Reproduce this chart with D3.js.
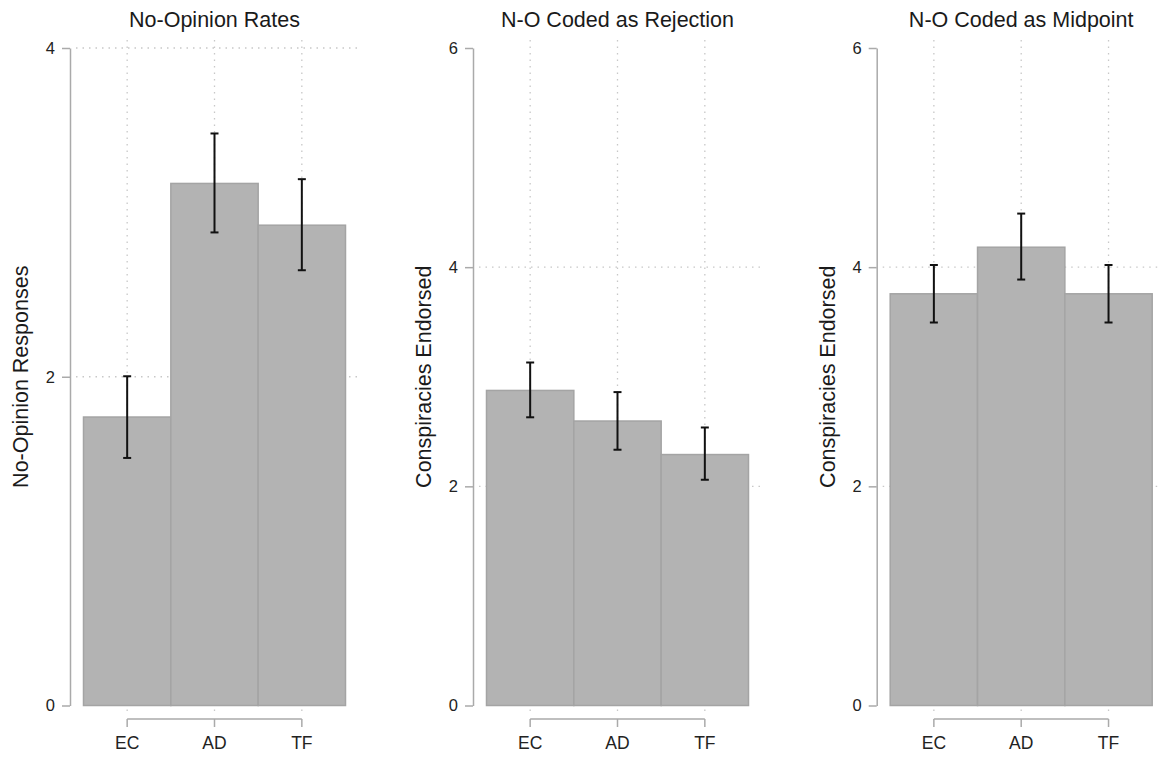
<!DOCTYPE html>
<html>
<head>
<meta charset="utf-8">
<script src="https://cdn.jsdelivr.net/npm/d3@7"></script>
<style>
  body { margin: 0; background: #fff; }
  svg { display: block; font-family: "Liberation Sans", Arial, sans-serif; }
</style>
</head>
<body>
<svg width="1158" height="757"></svg>
<script>
// data
const categories = ["EC", "AD", "TF"];
const panelTitles = ["No-Opinion Rates", "N-O Coded as Rejection", "N-O Coded as Midpoint"];
const yTitles = ["No-Opinion Responses", "Conspiracies Endorsed", "Conspiracies Endorsed"];

const rateMean = [1.755, 3.176, 2.922];
const rateLow  = [1.506, 2.878, 2.648];
const rateHigh = [2.003, 3.48, 3.202];

const rejectMean = [2.875, 2.596, 2.29];
const rejectLow  = [2.63, 2.334, 2.06];
const rejectHigh = [3.13, 2.86, 2.537];

const midMean = [3.757, 4.182, 3.757];
const midLow  = [3.495, 3.887, 3.495];
const midHigh = [4.02, 4.489, 4.02];

const yMaxes = [4, 6, 6];
const yTicks = [[0, 2, 4], [0, 2, 4, 6], [0, 2, 4, 6]];
const gridValues = [2, 4];

const means = [rateMean, rejectMean, midMean];
const lows = [rateLow, rejectLow, midLow];
const highs = [rateHigh, rejectHigh, midHigh];

const svg = d3.select("svg");
const axisXs = [70, 473, 876.7];   // left axis position of each panel
const plotTop = 48, plotBottom = 705.5;
const axisGrey = "#aaaaaa";

axisXs.forEach((ax, p) => {
  const g = svg.append("g").attr("transform", `translate(${ax},0)`);

  const x = d3.scaleBand().domain(categories).range([13.5, 275.5]).padding(0);
  const y = d3.scaleLinear().domain([0, yMaxes[p]]).range([plotBottom, plotTop]);
  const cx = d => x(d) + x.bandwidth() / 2;

  // gridlines
  g.selectAll(".hgrid").data(gridValues).join("line")
    .attr("x1", 6).attr("x2", 287)
    .attr("y1", d => y(d)).attr("y2", d => y(d))
    .attr("stroke", "#c8c8c8").attr("stroke-width", 1.3)
    .attr("stroke-dasharray", "1.5,5");
  g.selectAll(".vgrid").data(categories).join("line")
    .attr("x1", cx).attr("x2", cx)
    .attr("y1", 40).attr("y2", 713)
    .attr("stroke", "#c8c8c8").attr("stroke-width", 1.3)
    .attr("stroke-dasharray", "1.5,5");

  // bars
  g.selectAll(".bar").data(categories).join("rect")
    .attr("x", d => x(d))
    .attr("width", x.bandwidth())
    .attr("y", (d, i) => y(means[p][i]))
    .attr("height", (d, i) => y(0) - y(means[p][i]))
    .attr("fill", "#b3b3b3")
    .attr("stroke", "#a4a4a4")
    .attr("stroke-width", 1.5);

  // error bars
  const eb = g.selectAll(".err").data(categories).join("g");
  eb.append("line")
    .attr("x1", cx).attr("x2", cx)
    .attr("y1", (d, i) => y(lows[p][i])).attr("y2", (d, i) => y(highs[p][i]))
    .attr("stroke", "#111").attr("stroke-width", 2);
  [lows[p], highs[p]].forEach(vals => {
    eb.append("line")
      .attr("x1", d => cx(d) - 4).attr("x2", d => cx(d) + 4)
      .attr("y1", (d, i) => y(vals[i])).attr("y2", (d, i) => y(vals[i]))
      .attr("stroke", "#111").attr("stroke-width", 2);
  });

  // y axis
  const yAxis = g.append("g")
    .call(d3.axisLeft(y).tickValues(yTicks[p]).tickFormat(d3.format("d"))
      .tickSize(8).tickSizeOuter(0).tickPadding(7));
  yAxis.select(".domain").attr("stroke", axisGrey).attr("stroke-width", 1.5);
  yAxis.selectAll(".tick line").attr("stroke", axisGrey).attr("stroke-width", 1.5);
  yAxis.selectAll(".tick text")
    .attr("font-size", 16.5).attr("fill", "#222")
    .attr("font-family", "Liberation Sans, Arial, sans-serif");

  // x axis (bracket from first to last category)
  const xAxis = g.append("g").attr("transform", "translate(0,719)")
    .call(d3.axisBottom(x).tickSize(8).tickPadding(10));
  xAxis.select(".domain").remove();
  xAxis.append("line")
    .attr("x1", cx(categories[0])).attr("x2", cx(categories[categories.length - 1]))
    .attr("stroke", axisGrey).attr("stroke-width", 1.5);
  xAxis.selectAll(".tick line").attr("stroke", axisGrey).attr("stroke-width", 1.5);
  xAxis.selectAll(".tick text")
    .attr("font-size", 17.5).attr("fill", "#222")
    .attr("font-family", "Liberation Sans, Arial, sans-serif");

  // titles
  g.append("text")
    .attr("x", cx(categories[1])).attr("y", 27)
    .attr("text-anchor", "middle")
    .attr("font-size", 21.5).attr("fill", "#1a1a1a")
    .text(panelTitles[p]);

  g.append("text")
    .attr("transform", `translate(-42,${(plotTop + plotBottom) / 2}) rotate(-90)`)
    .attr("text-anchor", "middle")
    .attr("font-size", 21.5).attr("fill", "#1a1a1a")
    .text(yTitles[p]);
});
</script>
</body>
</html>
